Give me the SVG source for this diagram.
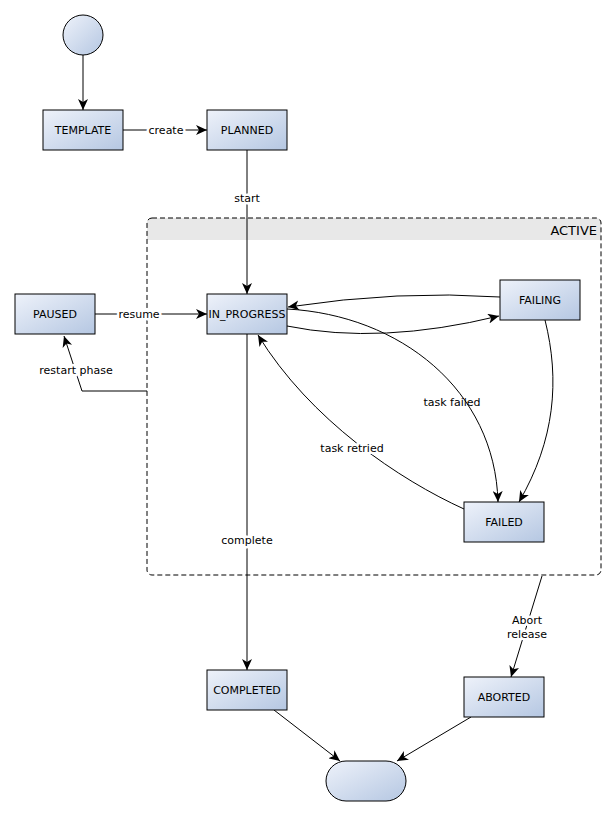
<svg xmlns="http://www.w3.org/2000/svg" width="616" height="817" viewBox="0 0 616 817">
<style>
.node{fill:url(#g);stroke:#000;stroke-width:1}
.t{font-family:"DejaVu Sans",sans-serif;font-size:11px;fill:#000;text-anchor:middle;dominant-baseline:central}
.lbl{font-family:"DejaVu Sans",sans-serif;font-size:11px;fill:#000;text-anchor:middle;dominant-baseline:central;paint-order:stroke;stroke:#fff;stroke-width:5px;stroke-linejoin:round}
.e{fill:none;stroke:#000;stroke-width:1;marker-end:url(#a)}
.n{fill:none;stroke:#000;stroke-width:1}
</style>
<defs>
<linearGradient id="g" x1="0" y1="0" x2="1" y2="1">
<stop offset="0" stop-color="#eef2fa"/>
<stop offset="1" stop-color="#b5c7e2"/>
</linearGradient>
<marker id="a" markerUnits="userSpaceOnUse" markerWidth="12" markerHeight="10" refX="11" refY="5" orient="auto">
<path d="M0,0 L11,5 L0,10 L3,5 z" fill="#000"/>
</marker>
</defs>
<g id="ACTIVE">
<path d="M147,240 L601,240 L601,223 Q601,218 596,218 L152,218 Q147,218 147,223 Z" fill="#e8e8e8"/>
<rect x="147" y="218" width="454" height="357" rx="5" fill="none" stroke="#000" stroke-dasharray="5,3"/>
<text x="597" y="230" font-family="DejaVu Sans,sans-serif" font-size="13" text-anchor="end" dominant-baseline="central">ACTIVE</text>
</g>
<g id="connectors">
<path class="e" d="M83,55 L83,110"/>
<path class="e" d="M123,130 L207,130"/>
<text class="lbl" x="166" y="130">create</text>
<path class="e" d="M247,150 L247,294"/>
<text class="lbl" x="247" y="198">start</text>
<path class="e" d="M95,314 L207,314"/>
<text class="lbl" x="139" y="314">resume</text>
<path class="e" d="M147,391 L82,391 L64,336"/>
<text class="lbl" x="76" y="370">restart phase</text>
<path class="e" d="M247,334 L247,670"/>
<text class="lbl" x="247" y="540">complete</text>
<path class="e" d="M500,297 Q400,290 288,307"/>
<path class="e" d="M287,326 Q380,345 499,316"/>
<path class="e" d="M287,309 C400,315 495,390 498,502"/>
<text class="t" x="452" y="402">task failed</text>
<path class="e" d="M545,320 C560,380 555,440 519,502"/>
<path class="e" d="M464,509 C400,480 310,420 258,335"/>
<text class="lbl" x="352" y="448">task retried</text>
<path class="e" d="M542,576 L511,677"/>
<text class="lbl" x="527" y="620">Abort</text>
<text class="lbl" x="527" y="634">release</text>
<path class="e" d="M274,710 L340,761"/>
<path class="e" d="M471,717 L397,761"/>
</g>
<g id="start"><circle class="node" cx="83" cy="35" r="20"/></g>
<g id="TEMPLATE"><rect class="node" x="43" y="110" width="80" height="40"/><text class="t" x="83" y="130">TEMPLATE</text></g>
<g id="PLANNED"><rect class="node" x="207" y="110" width="80" height="40"/><text class="t" x="247" y="130">PLANNED</text></g>
<g id="PAUSED"><rect class="node" x="15" y="294" width="80" height="40"/><text class="t" x="55" y="314">PAUSED</text></g>
<g id="IN_PROGRESS"><rect class="node" x="207" y="294" width="80" height="40"/><text class="t" x="247" y="314">IN_PROGRESS</text></g>
<g id="FAILING"><rect class="node" x="500" y="280" width="80" height="40"/><text class="t" x="540" y="300">FAILING</text></g>
<g id="FAILED"><rect class="node" x="464" y="502" width="80" height="40"/><text class="t" x="504" y="522">FAILED</text></g>
<g id="COMPLETED"><rect class="node" x="207" y="670" width="80" height="40"/><text class="t" x="247" y="690">COMPLETED</text></g>
<g id="ABORTED"><rect class="node" x="464" y="677" width="80" height="40"/><text class="t" x="504" y="697">ABORTED</text></g>
<g id="end"><rect class="node" x="326" y="761" width="80" height="40" rx="20"/></g>
</svg>
